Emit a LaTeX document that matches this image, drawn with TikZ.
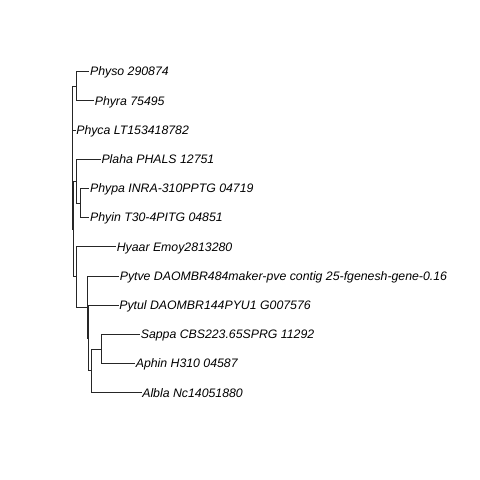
\documentclass[tikz,border=0pt]{standalone}
\usepackage{fontspec}
\setmainfont{Liberation Sans}
\begin{document}
\begin{tikzpicture}[x=1pt,y=-1pt,
  edge/.style={draw=black!85,line width=0.7pt},
  lbl/.style={anchor=base west,inner sep=0pt,font=\fontsize{12.3}{14}\selectfont\itshape,yshift=-4.4pt,xshift=0.6pt}]
\useasboundingbox[fill=white] (0,0) rectangle (480,480);
% internal nodes
\coordinate (R) at (72.5,86.1);
\coordinate (P) at (76.7,86.1);
\coordinate (S) at (73.3,228.9);
\coordinate (E) at (76.5,181.0);
\coordinate (F) at (80.0,202.9);
\coordinate (D) at (76.7,276.8);
\coordinate (B) at (87.5,307.0);
\coordinate (C) at (88.1,338.0);
\coordinate (A) at (91.0,370.8);
\coordinate (G) at (101.0,348.9);
% tips
\coordinate (tPhyso) at (89.3,71.5);
\coordinate (tPhyra) at (94.0,100.7);
\coordinate (tPhyca) at (75.5,129.9);
\coordinate (tPlaha) at (100.7,159.1);
\coordinate (tPhypa) at (89.3,188.3);
\coordinate (tPhyin) at (89.3,217.5);
\coordinate (tHyaar) at (116.0,246.7);
\coordinate (tPytve) at (119.0,275.9);
\coordinate (tPytul) at (118.5,305.1);
\coordinate (tSappa) at (140.0,334.3);
\coordinate (tAphin) at (135.0,363.5);
\coordinate (tAlbla) at (141.5,392.7);
% labels
\node[lbl] (Physo) at (tPhyso) {Physo 290874};
\node[lbl] (Phyra) at (tPhyra) {Phyra 75495};
\node[lbl] (Phyca) at (tPhyca) {Phyca LT153418782};
\node[lbl] (Plaha) at (tPlaha) {Plaha PHALS 12751};
\node[lbl] (Phypa) at (tPhypa) {Phypa INRA-310PPTG 04719};
\node[lbl] (Phyin) at (tPhyin) {Phyin T30-4PITG 04851};
\node[lbl] (Hyaar) at (tHyaar) {Hyaar Emoy2813280};
\node[lbl] (Pytve) at (tPytve) {Pytve DAOMBR484maker-pve contig 25-fgenesh-gene-0.16};
\node[lbl] (Pytul) at (tPytul) {Pytul DAOMBR144PYU1 G007576};
\node[lbl] (Sappa) at (tSappa) {Sappa CBS223.65SPRG 11292};
\node[lbl] (Aphin) at (tAphin) {Aphin H310 04587};
\node[lbl] (Albla) at (tAlbla) {Albla Nc14051880};
% edges
\draw[edge] (R) |- (P);
\draw[edge] (R) |- (tPhyca);
\draw[edge] (R) |- (S);
\draw[edge] (P) |- (tPhyso);
\draw[edge] (P) |- (tPhyra);
\draw[edge] (S) |- (E);
\draw[edge] (S) |- (D);
\draw[edge] (E) |- (tPlaha);
\draw[edge] (E) |- (F);
\draw[edge] (F) |- (tPhypa);
\draw[edge] (F) |- (tPhyin);
\draw[edge] (D) |- (tHyaar);
\draw[edge] (D) |- (B);
\draw[edge] (B) |- (tPytve);
\draw[edge] (B) |- (C);
\draw[edge] (C) |- (tPytul);
\draw[edge] (C) |- (A);
\draw[edge] (A) |- (G);
\draw[edge] (A) |- (tAlbla);
\draw[edge] (G) |- (tSappa);
\draw[edge] (G) |- (tAphin);
\end{tikzpicture}
\end{document}
